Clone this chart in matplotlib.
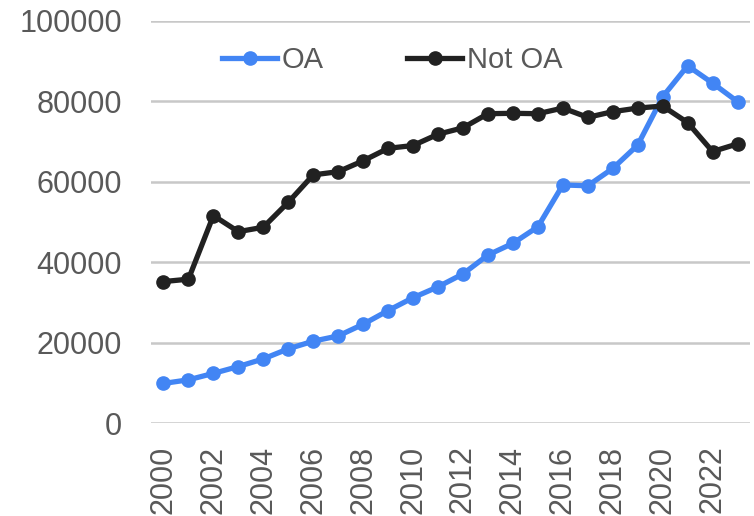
import matplotlib
matplotlib.use('Agg')
import matplotlib.pyplot as plt
import numpy as np

years = list(range(2000, 2024))
oa = [9900, 10800, 12400, 14100, 16000, 18500, 20400, 21700, 24600, 28000,
      31200, 33900, 37100, 41800, 44700, 48800, 59200, 59000, 63300, 69100,
      81100, 88800, 84500, 79900]
not_oa = [35200, 35800, 51600, 47600, 48700, 54900, 61700, 62500, 65200, 68300,
          69000, 71800, 73400, 76900, 77000, 76900, 78300, 76000, 77400, 78300,
          78800, 74700, 67500, 69400]
tick_years = years[::2]

plt.rcParams['font.family'] = ['Liberation Sans', 'DejaVu Sans']
gray_text = '#595959'

fig = plt.figure(figsize=(7.54, 5.16), dpi=100)
ax = fig.add_axes([151 / 754, 1 - 423.3 / 516, 599 / 754, 402.6 / 516])

x = np.arange(len(years))
ax.plot(x, oa, color='#4285F4', linewidth=3.8, marker='o', markersize=9.5,
        label='OA', clip_on=False, zorder=3)
ax.plot(x, not_oa, color='#212121', linewidth=3.8, marker='o', markersize=9.5,
        label='Not OA', clip_on=False, zorder=3)

ax.set_xlim(-0.5, len(years) - 0.5)
ax.set_ylim(0, 100000)
ax.set_yticks(np.arange(0, 100001, 20000))
ax.set_xticks(x[::2])
ax.set_xticklabels([str(y) for y in tick_years], rotation=90)

ax.grid(axis='y', color='#c8c8c8', linewidth=1.8)
ax.set_axisbelow(True)
for s in ax.spines.values():
    s.set_visible(False)
ax.tick_params(axis='y', length=0, pad=21, labelsize=22, labelcolor=gray_text)
ax.tick_params(axis='x', length=0, pad=16, labelsize=22, labelcolor=gray_text)

leg = ax.legend(loc='center left', bbox_to_anchor=(222 / 754, 1 - 60 / 516),
                bbox_transform=fig.transFigure, ncol=2, frameon=False,
                fontsize=21, handlelength=1.9, handletextpad=0.15,
                columnspacing=2.85, borderpad=0, borderaxespad=0)
for t in leg.get_texts():
    t.set_color(gray_text)

plt.savefig('out.png', dpi=100)
plt.close()
